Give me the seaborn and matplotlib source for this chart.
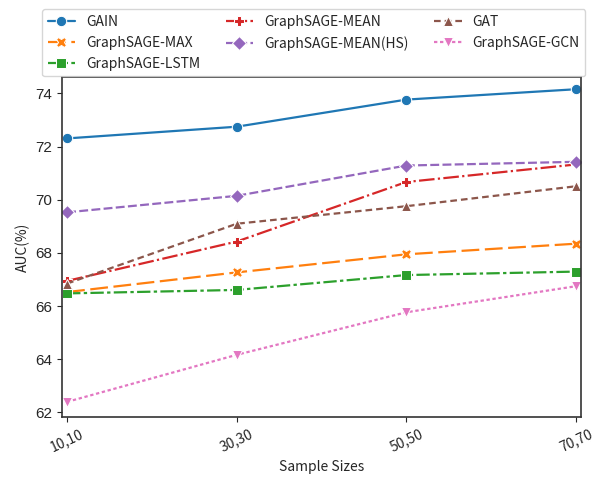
import matplotlib as mpl
mpl.use('Agg')
import matplotlib.pyplot as plt
import pandas as pd
import seaborn as sns

sizes = ['10,10', '30,30', '50,50', '70,70']
models = ['GAIN', 'GraphSAGE-MAX', 'GraphSAGE-LSTM', 'GraphSAGE-MEAN',
          'GraphSAGE-MEAN(HS)', 'GAT', 'GraphSAGE-GCN']

gain = [72.31, 72.75, 73.77, 74.16]
sage_max = [66.53, 67.27, 67.95, 68.35]
sage_lstm = [66.48, 66.61, 67.17, 67.30]
sage_mean = [66.95, 68.43, 70.67, 71.33]
sage_mean_hs = [69.53, 70.15, 71.29, 71.43]
gat = [66.85, 69.10, 69.76, 70.51]
sage_gcn = [62.40, 64.17, 65.77, 66.75]

values = [gain, sage_max, sage_lstm, sage_mean, sage_mean_hs, gat, sage_gcn]
rows = []
for m, vals in zip(models, values):
    for s, v in zip(sizes, vals):
        rows.append({'Sample Sizes': s, 'AUC(%)': v, 'model': m})
df = pd.DataFrame(rows)

markers = {'GAIN': 'o', 'GraphSAGE-MAX': 'X', 'GraphSAGE-LSTM': 's',
           'GraphSAGE-MEAN': 'P', 'GraphSAGE-MEAN(HS)': 'D',
           'GAT': '^', 'GraphSAGE-GCN': 'v'}
dashes = {'GAIN': '', 'GraphSAGE-MAX': (8, 2.5), 'GraphSAGE-LSTM': (6, 1.5, 1.5, 1.5),
          'GraphSAGE-MEAN': (7, 1.5, 1, 1.5), 'GraphSAGE-MEAN(HS)': (4, 1.5),
          'GAT': (3, 1.8), 'GraphSAGE-GCN': (1.5, 1.2)}

sns.set_style('ticks')
plt.rcParams['font.family'] = ['Noto Sans CJK SC', 'DejaVu Sans']

fig = plt.figure(figsize=(5.98, 4.84), dpi=100)
ax = fig.add_axes([0.1037, 0.1384, 0.8679, 0.7025])

sns.lineplot(data=df, x='Sample Sizes', y='AUC(%)', hue='model', style='model',
             hue_order=models, style_order=models, palette='tab10',
             markers=markers, dashes=dashes, markersize=7.5, linewidth=1.6,
             sort=False, ax=ax)

ax.margins(x=0.01)
ax.set_ylim(61.83, 74.62)
ax.set_yticks([62, 64, 66, 68, 70, 72, 74])
for lab in ax.get_yticklabels():
    lab.set_family(['Liberation Sans', 'DejaVu Sans'])
    lab.set_fontsize(11)
plt.setp(ax.get_xticklabels(), rotation=25, fontsize=10)
ax.set_xlabel('Sample Sizes', fontsize=10)
ax.set_ylabel('AUC(%)', fontsize=10)
for sp in ax.spines.values():
    sp.set_color('#333333')
    sp.set_linewidth(1.2)

handles, labels = ax.get_legend_handles_labels()
ax.legend(handles, labels, loc='lower center', bbox_to_anchor=(0.485, 1.0),
          ncol=3, fontsize=10, borderaxespad=0.05, columnspacing=1.8)

fig.savefig('out.png', dpi=100)
